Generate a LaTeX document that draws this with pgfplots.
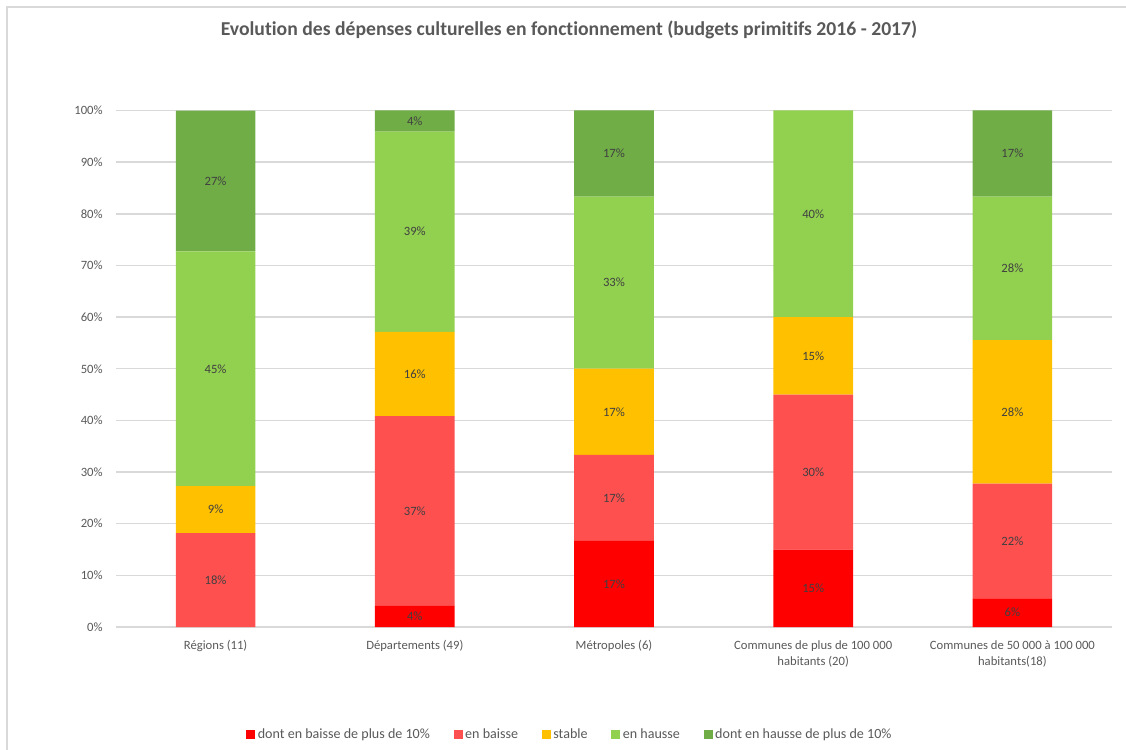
\documentclass[border=0pt]{standalone}
\usepackage{fontspec}
\setmainfont{Carlito}[Ligatures=NoCommon]
\usepackage{pgfplots}
\pgfplotsset{compat=1.18}

\definecolor{rouge}{HTML}{FF0000}
\definecolor{rougeclair}{HTML}{FF5050}
\definecolor{orange}{HTML}{FFC000}
\definecolor{vertclair}{HTML}{92D050}
\definecolor{vertfonce}{HTML}{70AD47}
\definecolor{grille}{HTML}{D9D9D9}
\definecolor{texte}{HTML}{595959}
\definecolor{etiq}{HTML}{404040}

\newcommand{\petit}{\fontsize{7.2}{9.1}\selectfont}

\begin{document}
\begin{tikzpicture}
\useasboundingbox (0,0) rectangle (22.52,14.98);
\draw[grille, line width=0.8pt] (0.14,-1) rectangle (24,14.84);

\node[font=\bfseries\fontsize{11.2}{13}\selectfont, text=texte] at (11.38,14.38)
  {Evolution des dépenses culturelles en fonctionnement (budgets primitifs 2016 - 2017)};

% barres empilées
\begin{axis}[
    at={(2.32cm,2.44cm)}, anchor=south west,
    scale only axis,
    width=19.92cm, height=10.33cm,
    ybar stacked,
    bar width=0.4,
    xmin=-0.5, xmax=4.5,
    ymin=0, ymax=100,
    axis line style={draw=none},
    major tick length=0pt,
    ymajorgrids,
    grid style={grille, line width=0.8pt},
    ytick={0,10,...,100},
    yticklabel={\pgfmathprintnumber{\tick}\%},
    /pgf/number format/assume math mode=true,
    yticklabel style={anchor=east, inner sep=0pt, xshift=-0.26cm, font=\petit, text=texte},
    xtick={0,1,2,3,4},
    xticklabels={Régions (11), Départements (49), Métropoles (6),
      {Communes de plus de 100 000\\habitants (20)},
      {Communes de 50 000 à 100 000\\habitants(18)}},
    xticklabel style={anchor=north, inner sep=0pt, yshift=-0.26cm, align=center, font=\petit, text=texte},
    clip=false,
    legend columns=5,
    legend style={at={(0.456,-0.209)}, anchor=center, draw=none, fill=none,
      font=\fontsize{8}{10}\selectfont, text=texte,
      nodes={inner sep=1.5pt},
      /tikz/every even column/.append style={column sep=0.42cm}},
    legend image code/.code={\fill[#1] (0cm,-0.09cm) rectangle (0.18cm,0.09cm);},
]
\addplot[fill=rouge, draw=none] coordinates {(0,0) (1,4.08) (2,16.67) (3,15) (4,5.56)};
\addplot[fill=rougeclair, draw=none] coordinates {(0,18.18) (1,36.73) (2,16.67) (3,30) (4,22.22)};
\addplot[fill=orange, draw=none] coordinates {(0,9.09) (1,16.33) (2,16.67) (3,15) (4,27.78)};
\addplot[fill=vertclair, draw=none] coordinates {(0,45.45) (1,38.78) (2,33.33) (3,40) (4,27.78)};
\addplot[fill=vertfonce, draw=none] coordinates {(0,27.27) (1,4.08) (2,16.67) (3,0) (4,16.67)};
\legend{dont en baisse de plus de 10\%, en baisse, stable, en hausse, dont en hausse de plus de 10\%}
\end{axis}

% étiquettes au milieu des segments
\begin{axis}[
    at={(2.32cm,2.44cm)}, anchor=south west,
    scale only axis,
    width=19.92cm, height=10.33cm,
    xmin=-0.5, xmax=4.5,
    ymin=0, ymax=100,
    hide axis,
    clip=false,
]
\addplot[draw=none, mark=none, nodes near coords, point meta=explicit symbolic,
  every node near coord/.append style={anchor=center, font=\petit, text=etiq}]
coordinates {
  (0,9.09) [18\%] (0,22.73) [9\%] (0,50) [45\%] (0,86.36) [27\%]
  (1,2.04) [4\%] (1,22.45) [37\%] (1,49) [16\%] (1,76.53) [39\%] (1,97.96) [4\%]
  (2,8.33) [17\%] (2,25) [17\%] (2,41.67) [17\%] (2,66.67) [33\%] (2,91.67) [17\%]
  (3,7.5) [15\%] (3,30) [30\%] (3,52.5) [15\%] (3,80) [40\%]
  (4,2.78) [6\%] (4,16.67) [22\%] (4,41.67) [28\%] (4,69.44) [28\%] (4,91.67) [17\%]
};
\end{axis}
\end{tikzpicture}
\end{document}
